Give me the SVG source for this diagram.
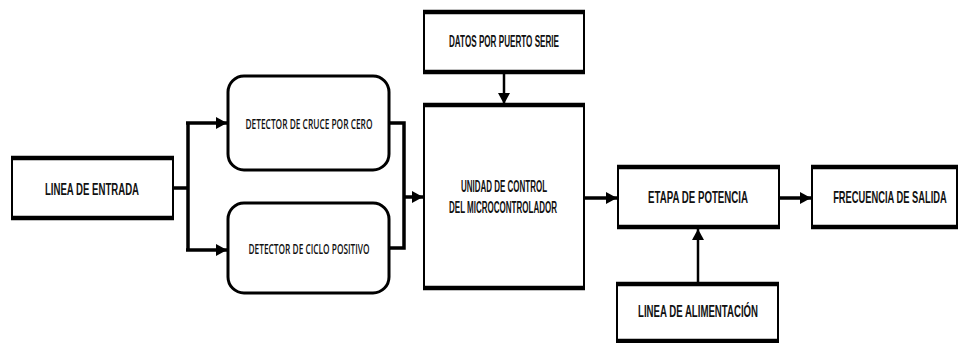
<svg xmlns="http://www.w3.org/2000/svg" width="962" height="343" viewBox="0 0 962 343">
<style>
.box{fill:#fff;stroke:#000;stroke-width:2}
.edge{stroke:#000;stroke-width:4.5}
.rbox{fill:#fff;stroke:#000;stroke-width:3}
.t{font-family:"Liberation Sans",Arial,sans-serif;font-weight:bold;font-size:16px;fill:#111}
.td{font-family:"Open Sans","Noto Sans",sans-serif;font-weight:600;font-size:15px;fill:#111}
.c{fill:none;stroke:#000;stroke-width:3.5}
.cn{fill:none;stroke:#000;stroke-width:2.5}
</style>
<defs>
<marker id="ah" markerUnits="userSpaceOnUse" markerWidth="12" markerHeight="12" refX="11" refY="6" orient="auto">
<path d="M0,0 L11,6 L0,12 Z" fill="#000"/>
</marker>
</defs>
<g id="linea-entrada">
<rect class="box" x="12" y="158" width="161" height="60"/>
<line class="edge" x1="11" y1="158" x2="174" y2="158"/>
<line class="edge" x1="11" y1="218" x2="174" y2="218"/>
<text class="t" x="92" y="195" text-anchor="middle" textLength="94" lengthAdjust="spacingAndGlyphs">LINEA DE ENTRADA</text>
</g>
<g id="detector-cruce">
<rect class="rbox" x="228" y="76" width="161" height="94" rx="16"/>
<text class="td" x="309" y="129" text-anchor="middle" textLength="127" lengthAdjust="spacingAndGlyphs">DETECTOR DE CRUCE POR CERO</text>
</g>
<g id="detector-ciclo">
<rect class="rbox" x="228" y="203" width="161" height="90" rx="16"/>
<text class="td" x="309" y="254" text-anchor="middle" textLength="121" lengthAdjust="spacingAndGlyphs">DETECTOR DE CICLO POSITIVO</text>
</g>
<g id="datos-serie">
<rect class="box" x="424" y="12" width="160" height="60"/>
<line class="edge" x1="423" y1="12" x2="585" y2="12"/>
<line class="edge" x1="423" y1="72" x2="585" y2="72"/>
<text class="t" x="504" y="47" text-anchor="middle" textLength="110" lengthAdjust="spacingAndGlyphs">DATOS POR PUERTO SERIE</text>
</g>
<g id="unidad-control">
<rect class="box" x="424" y="105" width="160" height="183"/>
<line class="edge" x1="423" y1="105" x2="585" y2="105"/>
<line class="edge" x1="423" y1="288" x2="585" y2="288"/>
<text class="t" x="504" y="192" text-anchor="middle" textLength="86" lengthAdjust="spacingAndGlyphs">UNIDAD DE CONTROL</text>
<text class="t" x="503" y="213" text-anchor="middle" textLength="108" lengthAdjust="spacingAndGlyphs">DEL MICROCONTROLADOR</text>
</g>
<g id="etapa-potencia">
<rect class="box" x="618" y="167" width="161" height="60"/>
<line class="edge" x1="617" y1="167" x2="780" y2="167"/>
<line class="edge" x1="617" y1="227" x2="780" y2="227"/>
<text class="t" x="698" y="203" text-anchor="middle" textLength="100" lengthAdjust="spacingAndGlyphs">ETAPA DE POTENCIA</text>
</g>
<g id="frecuencia-salida">
<rect class="box" x="812" y="167" width="145" height="60"/>
<line class="edge" x1="811" y1="167" x2="958" y2="167"/>
<line class="edge" x1="811" y1="227" x2="958" y2="227"/>
<text class="t" transform="translate(890 203) scale(0.58 1)" x="0" y="0" text-anchor="middle" textLength="196" lengthAdjust="spacingAndGlyphs">FRECUENCIA DE SALIDA</text>
</g>
<g id="linea-alimentacion">
<rect class="box" x="617" y="284" width="161" height="57"/>
<line class="edge" x1="616" y1="284" x2="779" y2="284"/>
<line class="edge" x1="616" y1="341" x2="779" y2="341"/>
<text class="t" x="698" y="317" text-anchor="middle" textLength="120" lengthAdjust="spacingAndGlyphs">LINEA DE ALIMENTACIÓN</text>
</g>
<g id="connectors">
<polyline class="c" points="173,188 188,188"/>
<polyline class="c" points="188,123 188,250"/>
<polyline class="c" points="186,123 227,123" marker-end="url(#ah)"/>
<polyline class="c" points="186,250 227,250" marker-end="url(#ah)"/>
<polyline class="c" points="389,123 404,123 404,248 389,248"/>
<polyline class="c" points="404,197 423,197" marker-end="url(#ah)"/>
<polyline class="cn" points="504,74 504,104" marker-end="url(#ah)"/>
<polyline class="c" points="585,198 617,198" marker-end="url(#ah)"/>
<polyline class="c" points="780,198 811,198" marker-end="url(#ah)"/>
<polyline class="cn" points="698,282 698,229" marker-end="url(#ah)"/>
</g>
</svg>
